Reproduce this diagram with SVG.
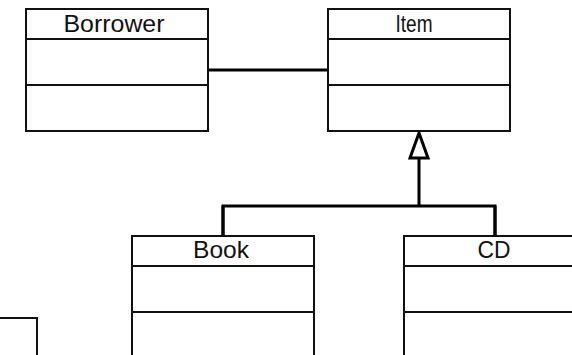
<svg xmlns="http://www.w3.org/2000/svg" width="572" height="355" viewBox="0 0 572 355">
<style>
.box{fill:#fff;stroke:#111;stroke-width:2}
.div{stroke:#111;stroke-width:2}
.lbl{font-family:"Liberation Sans",Arial,sans-serif;font-size:24px;fill:#111;text-anchor:middle}
.conn{fill:none;stroke:#000;stroke-width:3}
</style>
<rect width="572" height="355" fill="#fff"/>
<g id="connectors">
<line class="conn" x1="207" y1="70" x2="329" y2="70"/>
<polyline class="conn" points="223,236 223,206 495,206 495,236"/>
<line class="conn" x1="419" y1="158" x2="419" y2="206"/>
<polygon class="conn" fill="#fff" points="419,133 410,158 428,158" style="fill:#fff"/>
</g>
<g id="borrower">
<rect class="box" x="26" y="9" width="182" height="122"/>
<line class="div" x1="26" y1="39" x2="208" y2="39"/>
<line class="div" x1="26" y1="85" x2="208" y2="85"/>
<text class="lbl" x="114" y="32" textLength="101" lengthAdjust="spacingAndGlyphs">Borrower</text>
</g>
<g id="item">
<rect class="box" x="328" y="9" width="182" height="122"/>
<line class="div" x1="328" y1="39" x2="510" y2="39"/>
<line class="div" x1="328" y1="85" x2="510" y2="85"/>
<text class="lbl" x="414" y="32" textLength="37" lengthAdjust="spacingAndGlyphs">Item</text>
</g>
<g id="book">
<rect class="box" x="132" y="236" width="182" height="140"/>
<line class="div" x1="132" y1="266" x2="314" y2="266"/>
<line class="div" x1="132" y1="312" x2="314" y2="312"/>
<text class="lbl" x="221" y="258" textLength="56" lengthAdjust="spacingAndGlyphs">Book</text>
</g>
<g id="cd">
<rect class="box" x="404" y="236" width="182" height="140"/>
<line class="div" x1="404" y1="266" x2="586" y2="266"/>
<line class="div" x1="404" y1="312" x2="586" y2="312"/>
<text class="lbl" x="494" y="258" textLength="33" lengthAdjust="spacingAndGlyphs">CD</text>
</g>
<g id="partial">
<rect class="box" x="-146" y="318" width="183" height="60"/>
</g>
<line class="conn" x1="223" y1="206" x2="223" y2="237"/>
<line class="conn" x1="495" y1="206" x2="495" y2="237"/>
</svg>
